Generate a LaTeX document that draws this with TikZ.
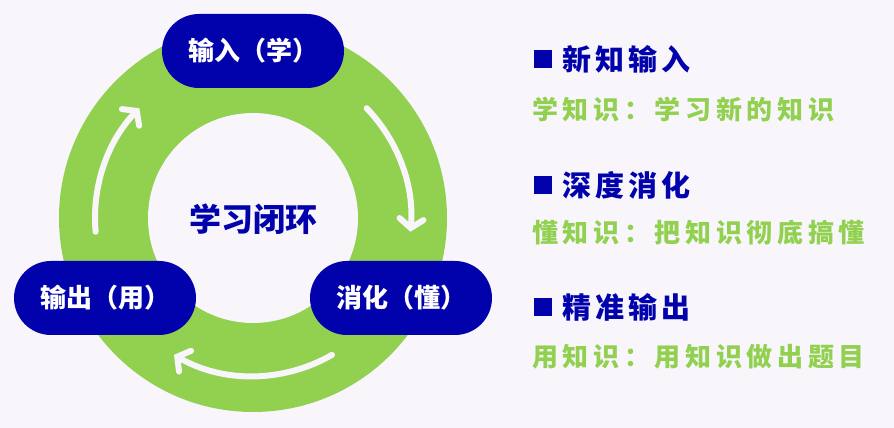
\documentclass[tikz,border=0pt]{standalone}
\usepackage{fontspec}
\setmainfont{Noto Sans CJK SC}
\usetikzlibrary{arrows.meta}
\definecolor{bg}{RGB}{248,246,251}
\definecolor{navy}{RGB}{2,2,172}
\definecolor{lgreen}{RGB}{146,208,80}
\tikzset{
  pill/.style={fill=navy, rounded corners=37pt, minimum width=182pt, minimum height=74pt, inner sep=0pt,
    text=white, font=\bfseries\fontsize{26pt}{28pt}\selectfont},
  cyc/.style={draw=bg, line width=6pt, line cap=round,
    -{Straight Barb[length=9pt,width=24pt,line cap=round]}},
  head/.style={anchor=west, inner sep=0pt, text=navy,
    font=\bfseries\fontsize{29pt}{31pt}\selectfont\addfontfeatures{LetterSpace=14}},
  sub/.style={anchor=west, inner sep=0pt, text=lgreen,
    font=\bfseries\fontsize{26pt}{28pt}\selectfont\addfontfeatures{LetterSpace=18}},
  bullet/.style={fill=navy, minimum size=18pt, inner sep=0pt}
}
\begin{document}
\begin{tikzpicture}[x=1pt,y=1pt]
\fill[bg] (0,0) rectangle (894,428);
\useasboundingbox (0,0) rectangle (894,428);
% ring
\coordinate (c) at (253,210);
\fill[lgreen] (c) circle[radius=194];
\fill[bg] (c) circle[radius=105];
% arrows
\draw[cyc] (c) ++(44:158) arc[start angle=44, end angle=-5, radius=158];
\draw[cyc] (c) ++(-60:158) arc[start angle=-60, end angle=-120, radius=158];
\draw[cyc] (c) ++(185:158) arc[start angle=185, end angle=136, radius=158];
% pills
\node[pill] (in) at (253,377) {输入（学）};
\node[pill] (use) at (105,130) {输出（用）};
\node[pill] (dig) at (401,130) {消化（懂）};
\node[text=navy, font=\bfseries\fontsize{32pt}{34pt}\selectfont] (loop) at (253,209) {学习闭环};
% right side
\node[bullet] (b1) at (542.5,369) {};
\node[head] (h1) at (562,369) {新知输入};
\node[sub] (s1) at (532,319) {学知识：学习新的知识};
\node[bullet] (b2) at (542.5,243) {};
\node[head] (h2) at (562,243) {深度消化};
\node[sub] (s2) at (532,195) {懂知识：把知识彻底搞懂};
\node[bullet] (b3) at (542.5,121) {};
\node[head] (h3) at (562,121) {精准输出};
\node[sub] (s3) at (532,71) {用知识：用知识做出题目};
\end{tikzpicture}
\end{document}
